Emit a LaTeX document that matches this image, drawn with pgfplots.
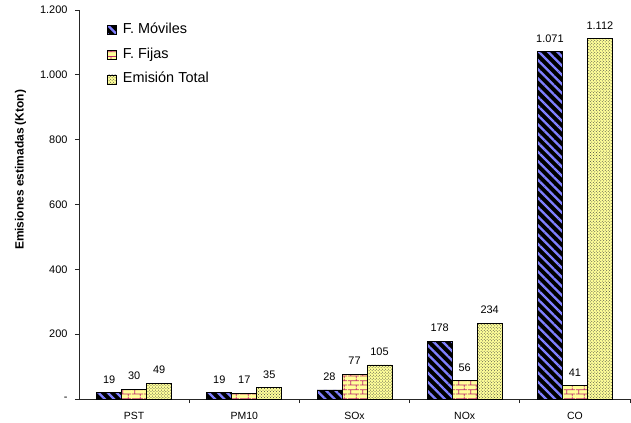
\documentclass[border=0pt]{standalone}
\usepackage{fontspec}
\setmainfont{Liberation Sans}
\usepackage{pgfplots}
\pgfplotsset{compat=1.18}
\usetikzlibrary{patterns,patterns.meta}

\definecolor{stripeblue}{RGB}{128,128,255}
\definecolor{paleyellow}{RGB}{255,255,153}
\definecolor{brickline}{RGB}{190,40,110}

% Wide brick pattern for the fixed-source series
\pgfdeclarepatternformonly{widebricks}{\pgfpointorigin}{\pgfpoint{12bp}{9bp}}{\pgfpoint{12bp}{9bp}}{%
  \pgfsetlinewidth{0.8bp}%
  \pgfpathmoveto{\pgfpoint{0bp}{2.25bp}}\pgfpathlineto{\pgfpoint{12bp}{2.25bp}}%
  \pgfpathmoveto{\pgfpoint{0bp}{6.75bp}}\pgfpathlineto{\pgfpoint{12bp}{6.75bp}}%
  \pgfpathmoveto{\pgfpoint{3bp}{2.25bp}}\pgfpathlineto{\pgfpoint{3bp}{6.75bp}}%
  \pgfpathmoveto{\pgfpoint{9bp}{6.75bp}}\pgfpathlineto{\pgfpoint{9bp}{9bp}}%
  \pgfpathmoveto{\pgfpoint{9bp}{0bp}}\pgfpathlineto{\pgfpoint{9bp}{2.25bp}}%
  \pgfusepath{stroke}}

\begin{document}
\begin{tikzpicture}
\begin{axis}[
  width=551bp, height=389bp, scale only axis,
  xmin=-0.5, xmax=4.5, ymin=0, ymax=1200,
  axis x line*=bottom, axis y line*=left,
  axis line style={black!85, line width=0.8bp},
  ybar=0pt, bar width=25bp,
  xtick={0,...,4}, xticklabels={PST,PM10,SOx,NOx,CO},
  minor xtick={0.5,1.5,2.5,3.5,4.5},
  every major x tick/.style={draw=none},
  every minor x tick/.style={black!85, line width=0.8bp},
  minor tick length=4bp, major tick length=4bp,
  xtick align=outside, ytick align=outside,
  ytick={0,200,...,1200},
  yticklabels={-,200,400,600,800,1.000,1.200},
  every major y tick/.style={black!85, line width=0.8bp},
  /pgf/number format/assume math mode=true,
  xticklabel style={font=\fontsize{10.5}{12}\selectfont, yshift=-6bp},
  yticklabel style={font=\fontsize{11}{13}\selectfont, xshift=-4bp},
  ylabel={Emisiones estimadas (Kton)},
  ylabel style={font=\fontsize{12}{14}\selectfont\bfseries,
                at={(axis description cs:-0.106,0.589)}, anchor=center},
  nodes near coords={\pgfmathprintnumber[assume math mode=true,1000 sep={.}]{\pgfplotspointmeta}},
  every node near coord/.append style={font=\fontsize{11}{13}\selectfont,
                anchor=base, inner sep=0pt, yshift=9.5bp, black},
  legend style={at={(axis description cs:0.051,0.966)}, anchor=north west,
                draw=none, fill=none, font=\fontsize{14.5}{17}\selectfont,
                row sep=11.7bp, inner sep=0pt,
                nodes={inner sep=0pt, text height=10bp, text depth=3bp},
                /tikz/every odd column/.append style={column sep=6bp}},
  legend cell align=left,
  legend image code/.code={%
    \draw[#1, line width=0.6bp] (0bp,-4.5bp) rectangle (9bp,4.5bp);},
]
\addplot[draw=black, line width=0.8bp, fill=black,
  postaction={pattern={Lines[angle=-45,distance=6.5bp,line width=2.3bp]}, pattern color=stripeblue}]
  coordinates {(0,19) (1,19) (2,28) (3,178) (4,1071)};
\addplot[draw=black, line width=0.8bp, fill=paleyellow,
  postaction={pattern=widebricks, pattern color=brickline}]
  coordinates {(0,30) (1,17) (2,77) (3,56) (4,41)};
\addplot[draw=black, line width=0.8bp, fill=paleyellow,
  postaction={pattern=crosshatch dots, pattern color=black!75}]
  coordinates {(0,49) (1,35) (2,105) (3,234) (4,1112)};
\legend{F. Móviles, F. Fijas, Emisión Total}
\coordinate (bl) at (rel axis cs:0,0);
\coordinate (tr) at (rel axis cs:1,1);
\end{axis}
\pgfresetboundingbox
\path ([xshift=-79bp,yshift=-24bp]bl) rectangle ([xshift=1bp,yshift=10bp]tr);
\end{tikzpicture}
\end{document}
